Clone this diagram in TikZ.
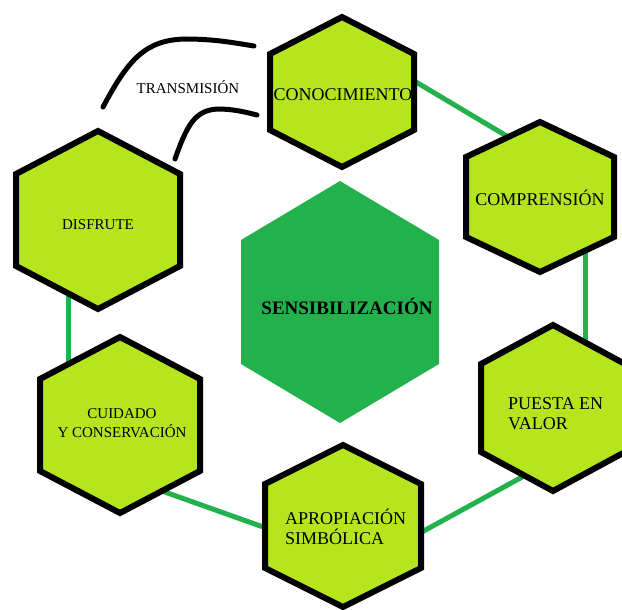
\documentclass[tikz,border=0pt]{standalone}
\usepackage{fontspec}
\setmainfont{Liberation Serif}
\usetikzlibrary{calc}
\definecolor{celllime}{HTML}{B5E61D}
\definecolor{coregreen}{HTML}{22B14C}
% hexagon with a point at top and bottom: half width, half height, half side
\newcommand{\hexcell}[3]{(0,-#2) -- (#1,-#3) -- (#1,#3) -- (0,#2) -- (-#1,#3) -- (-#1,-#3) -- cycle}
\tikzset{
    cell/.style={fill=celllime,draw=black,line width=6pt,line join=miter},
    core/.style={fill=coregreen},
    link/.style={coregreen,line width=5pt},
    transline/.style={black,line width=5pt,line cap=round},
    big label/.style={font=\fontsize{18}{20}\selectfont,align=left,inner sep=0pt},
    small label/.style={font=\fontsize{15}{19.5}\selectfont,align=center,inner sep=0pt},
}

\begin{document}
\begin{tikzpicture}[x=1pt,y=-1pt]
        \useasboundingbox (0,0) rectangle (622,610);

        \coordinate (cono) at (342,92);
        \coordinate (compr) at (540,197);
        \coordinate (puesta) at (553,408);
        \coordinate (aprop) at (343,526);
        \coordinate (cuid) at (120,425);
        \coordinate (disf) at (98,220);
        \coordinate (sens) at (340,302);

        % link ends, tucked under the borders
        \coordinate (L1a) at (416,82);  \coordinate (L1b) at (510,138);
        \coordinate (L2a) at (585,248); \coordinate (L2b) at (585,344);
        \coordinate (L3a) at (524,476); \coordinate (L3b) at (420,533);
        \coordinate (L4a) at (266,528); \coordinate (L4b) at (162,491);
        \coordinate (L5a) at (68,292);  \coordinate (L5b) at (68,366);

        \draw[link] (L1a) -- (L1b);
        \draw[link] (L2a) -- (L2b);
        \draw[link] (L3a) -- (L3b);
        \draw[link] (L4a) -- (L4b);
        \draw[link] (L5a) -- (L5b);

        \fill[core, shift={(sens)}] \hexcell{99}{121}{62};
        \draw[cell, shift={(cono)}] \hexcell{72}{75}{38};
        \draw[cell, shift={(compr)}] \hexcell{74}{75}{40};
        \draw[cell, shift={(puesta)}] \hexcell{72}{83}{44};
        \draw[cell, shift={(aprop)}] \hexcell{78}{81}{42};
        \draw[cell, shift={(cuid)}] \hexcell{80}{88}{46};
        \draw[cell, shift={(disf)}] \hexcell{82}{89}{46};

        % transmission band
        \coordinate (T1a) at (103,107); \coordinate (T1b) at (254,46);
        \coordinate (T2a) at (175,159); \coordinate (T2b) at (257,115);
        \draw[transline] (T1a) .. controls (128,60) and (145,40) .. (185,39)
            .. controls (215,39) and (235,43) .. (T1b);
        \draw[transline] (T2a) .. controls (187,125) and (195,110) .. (218,109)
            .. controls (233,109) and (245,112) .. (T2b);
        \node[small label, anchor=base] (trans) at (188,94) {TRANSMISIÓN};

        \node[big label, anchor=base] (conotext) at (343,101) {CONOCIMIENTO};
        \node[big label, anchor=base] (comprtext) at (540,205) {COMPRENSIÓN};
        \node[big label, anchor=west] (puestatext) at (508,414) {PUESTA EN\\VALOR};
        \node[big label, anchor=west] (aproptext) at (285,527) {APROPIACIÓN\\SIMBÓLICA};
        \node[small label] (cuidtext) at (122,423) {CUIDADO\\Y CONSERVACIÓN};
        \node[small label, anchor=base] (disftext) at (98,229) {DISFRUTE};
        \node[font=\fontsize{19}{22}\selectfont\bfseries, inner sep=0pt, anchor=base]
            (senstext) at (347,314) {SENSIBILIZACIÓN};
\end{tikzpicture}
\end{document}
